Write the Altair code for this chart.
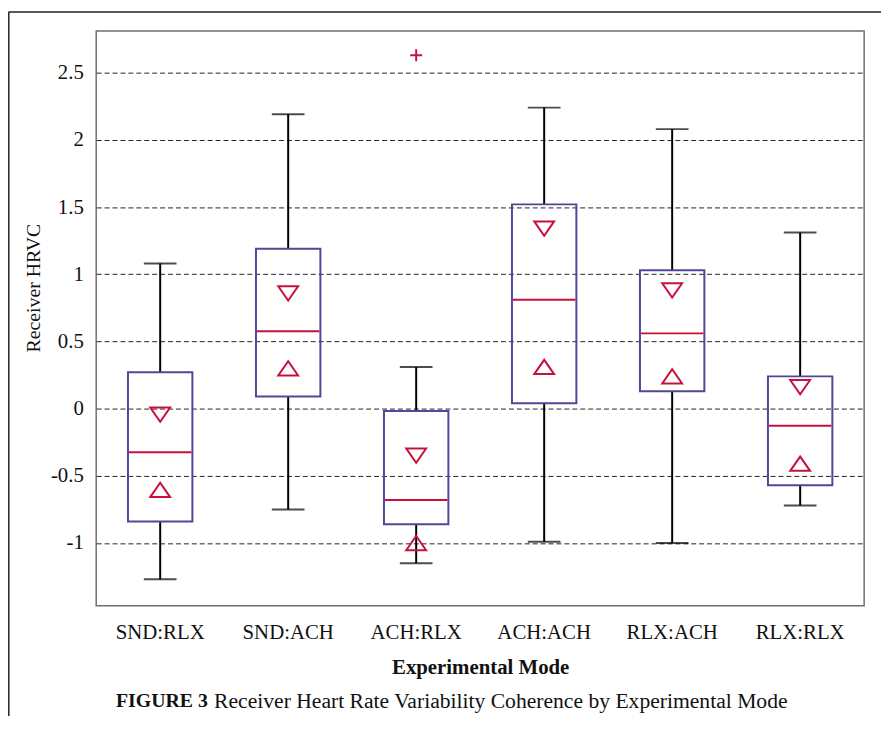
import altair as alt
import pandas as pd

# ---- data ----
modes = ["SND:RLX", "SND:ACH", "ACH:RLX", "ACH:ACH", "RLX:ACH", "RLX:RLX"]
whisker_low = [-1.27, -0.75, -1.15, -0.99, -1.00, -0.72]
q1 = [-0.84, 0.09, -0.86, 0.04, 0.13, -0.57]
median = [-0.325, 0.576, -0.68, 0.81, 0.56, -0.128]
q3 = [0.27, 1.19, -0.017, 1.52, 1.03, 0.24]
whisker_high = [1.08, 2.19, 0.31, 2.24, 2.08, 1.31]
notch_high = [-0.045, 0.857, -0.35, 1.34, 0.88, 0.16]
notch_low = [-0.605, 0.30, -1.00, 0.31, 0.24, -0.41]
outlier_mode = ["ACH:RLX"]
outlier_value = [2.63]
y_ticks = [-1, -0.5, 0, 0.5, 1, 1.5, 2, 2.5]

caption_bold = "FIGURE 3"
caption_rest = "Receiver Heart Rate Variability Coherence by Experimental Mode"

df = pd.DataFrame({
    "mode": modes, "lo": whisker_low, "q1": q1, "med": median,
    "q3": q3, "hi": whisker_high, "nhi": notch_high, "nlo": notch_low,
})
out_df = pd.DataFrame({"mode": outlier_mode, "v": outlier_value})

BOX = "#4e4899"
RED = "#c8103c"
FONT = "Liberation Serif"

W, H = 775, 580

x = alt.X("mode:N", sort=modes, title="Experimental Mode",
          scale=alt.Scale(paddingInner=0, paddingOuter=0),
          axis=alt.Axis(labelAngle=0, ticks=False, domain=False, grid=False,
                        labelFont=FONT, labelFontSize=21, labelColor="#111",
                        labelPadding=16, titleFont=FONT, titleFontSize=21,
                        titleFontWeight="bold", titleColor="#111", titlePadding=14))

yscale = alt.Scale(domain=[-1.467, 2.81], nice=False, zero=False)
yaxis = alt.Axis(values=y_ticks, labelExpr="toString(datum.value)", ticks=False,
                 domain=False, grid=True, gridDash=[5, 3], gridColor="#222",
                 gridWidth=1, labelFont=FONT, labelFontSize=21, labelColor="#111",
                 labelPadding=13, title="Receiver HRVC", titleFont=FONT,
                 titleFontSize=20, titleFontWeight="normal", titleColor="#111",
                 titleX=-63, titleY=259, titleAngle=-90,
                 titleAlign="center", titleBaseline="middle")

base = alt.Chart(df)

whisk_lo = base.mark_rule(color="black", strokeWidth=2).encode(
    x=x, y=alt.Y("lo:Q", scale=yscale, axis=yaxis), y2="q1:Q")
whisk_hi = base.mark_rule(color="black", strokeWidth=2).encode(
    x=x, y=alt.Y("q3:Q", scale=yscale), y2="hi:Q")
cap_lo = base.mark_tick(color="black", size=33, thickness=2).encode(
    x=x, y=alt.Y("lo:Q", scale=yscale))
cap_hi = base.mark_tick(color="black", size=33, thickness=2).encode(
    x=x, y=alt.Y("hi:Q", scale=yscale))
box = base.mark_bar(size=65, fill="transparent", stroke=BOX, strokeWidth=2).encode(
    x=x, y=alt.Y("q1:Q", scale=yscale), y2="q3:Q")
med = base.mark_tick(color=RED, size=63, thickness=2, opacity=1).encode(
    x=x, y=alt.Y("med:Q", scale=yscale))
tri_down = base.mark_point(shape="M-1,-0.72L1,-0.72L0,0.72Z", size=400, filled=False,
                           color=RED, strokeWidth=2, opacity=1).encode(
    x=x, y=alt.Y("nhi:Q", scale=yscale))
tri_up = base.mark_point(shape="M-1,0.72L1,0.72L0,-0.72Z", size=400, filled=False,
                         color=RED, strokeWidth=2, opacity=1).encode(
    x=x, y=alt.Y("nlo:Q", scale=yscale))
outl = alt.Chart(out_df).mark_point(shape="M-1,0H1M0,-1V1", size=144, filled=False,
                                    color=RED, strokeWidth=2, opacity=1).encode(
    x=alt.X("mode:N", sort=modes), y=alt.Y("v:Q", scale=yscale))

cap1 = alt.Chart(pd.DataFrame({"t": [caption_bold]})).mark_text(
    font=FONT, fontSize=20, fontWeight="bold", align="left", baseline="middle",
    color="#111").encode(text="t:N", x=alt.value(20), y=alt.value(676))
cap2 = alt.Chart(pd.DataFrame({"t": [caption_rest]})).mark_text(
    font=FONT, fontSize=21.8, align="left", baseline="middle",
    color="#111").encode(text="t:N", x=alt.value(119), y=alt.value(676))

frame_left = alt.Chart(pd.DataFrame({"a": [0]})).mark_rule(color="#222", strokeWidth=1.5).encode(
    x=alt.value(-88.2), y=alt.value(-19.5), y2=alt.value(700))
frame_top = alt.Chart(pd.DataFrame({"a": [0]})).mark_rule(color="#222", strokeWidth=1.5).encode(
    x=alt.value(-88.2), x2=alt.value(W + 17), y=alt.value(-19.2))

chart = alt.layer(
    whisk_lo, whisk_hi, cap_lo, cap_hi, box, med, tri_down, tri_up, outl,
    cap1, cap2, frame_left, frame_top
).properties(
    width=W, height=H,
    autosize=alt.AutoSizeParams(type="none"),
    padding={"left": 89, "top": 20, "right": 17, "bottom": 108},
).configure(
    background="white",
    view=alt.ViewConfig(stroke="#6f6f6f", strokeWidth=1.5),
)

chart.save("out.html", embed_options={"renderer": "svg", "actions": False})
